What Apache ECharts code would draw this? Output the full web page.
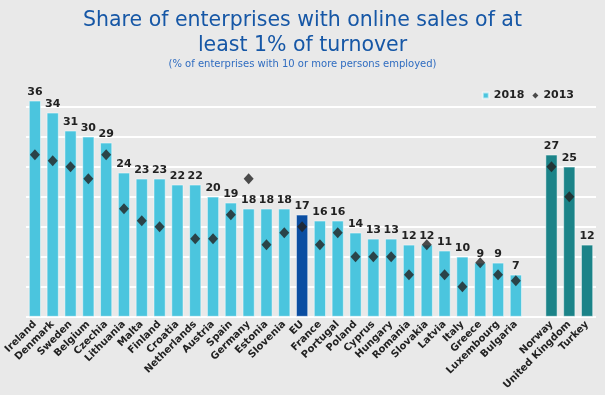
<!DOCTYPE html>
<html><head><meta charset="utf-8">
<script src="https://cdn.jsdelivr.net/npm/echarts@6/dist/echarts.min.js"></script>
<style>html,body{margin:0;padding:0;background:#e9e9e9;}#c{width:605px;height:395px;}</style>
</head><body><div id="c"></div>
<script>
const categories = ['Ireland','Denmark','Sweden','Belgium','Czechia','Lithuania','Malta','Finland','Croatia','Netherlands','Austria','Spain','Germany','Estonia','Slovenia','EU','France','Portugal','Poland','Cyprus','Hungary','Romania','Slovakia','Latvia','Italy','Greece','Luxembourg','Bulgaria','','Norway','United Kingdom','Turkey'];
const values2018 = [36,34,31,30,29,24,23,23,22,22,20,19,18,18,18,17,16,16,14,13,13,12,12,11,10,9,9,7,null,27,25,12];
const values2013 = [27,26,25,23,27,18,16,15,null,13,13,17,23,12,14,15,12,14,10,10,10,7,12,7,5,9,7,6,null,25,20,null];
const nonEU = ['Norway','United Kingdom','Turkey'];

const colLight = '#4bc5de', colEU = '#0b4ea2', colNon = '#1b8388';
const barData = values2018.map((v,i)=>({
  value: v,
  itemStyle: { color: categories[i]==='EU' ? colEU : (nonEU.includes(categories[i]) ? colNon : colLight) }
}));
const font = 'DejaVu Sans, Verdana, sans-serif';
const chart = echarts.init(document.getElementById('c'));
chart.setOption({
  backgroundColor: '#e9e9e9',
  animation: false,
  title: [{
    text: 'Share of enterprises with online sales of at\nleast 1% of turnover',
    left: 'center', top: 3,
    textStyle: { fontFamily: font, fontSize: 20.5, fontWeight: 'normal', color: '#1657a6', lineHeight: 25 }
  },{
    text: '(% of enterprises with 10 or more persons employed)',
    left: 'center', top: 54,
    textStyle: { fontFamily: font, fontSize: 10, fontWeight: 'normal', color: '#2f6cc0' }
  }],
  legend: {
    right: 26, top: 85, itemGap: 8, itemWidth: 6, itemHeight: 6,
    textStyle: { fontFamily: font, fontSize: 11, fontWeight: 'bold', color: '#222' },
    data: [{name:'2018', icon:'rect', itemStyle:{color:colLight}}, {name:'2013', icon:'diamond', itemStyle:{color:'#222'}}]
  },
  grid: { left: 26, right: 9, top: 106.7, bottom: 78.3, containLabel: false },
  xAxis: {
    type: 'category', data: categories,
    axisLine: { show: false }, axisTick: { show: false },
    axisLabel: { interval: 0, rotate: 45, fontFamily: font, fontSize: 10, fontWeight: 'bold', color: '#222', margin: 6 }
  },
  yAxis: {
    type: 'value', min: 0, max: 35, interval: 5,
    axisLabel: { show: false }, axisLine: { show: false }, axisTick: { show: false },
    splitLine: { lineStyle: { color: '#ffffff', width: 2 } }
  },
  series: [{
    name: '2018', type: 'bar', data: barData, barWidth: 12, clip: false,
    itemStyle: { borderColor: 'rgba(255,255,255,0.6)', borderWidth: 0.8 },
    label: { show: true, position: 'top', distance: 3, fontFamily: font, fontSize: 11, fontWeight: 'bold', color: '#222' }
  },{
    name: '2013', type: 'scatter', data: values2013, symbol: 'diamond', symbolSize: [10,11],
    itemStyle: { color: '#222' }, z: 5
  }]
});
</script></body></html>
